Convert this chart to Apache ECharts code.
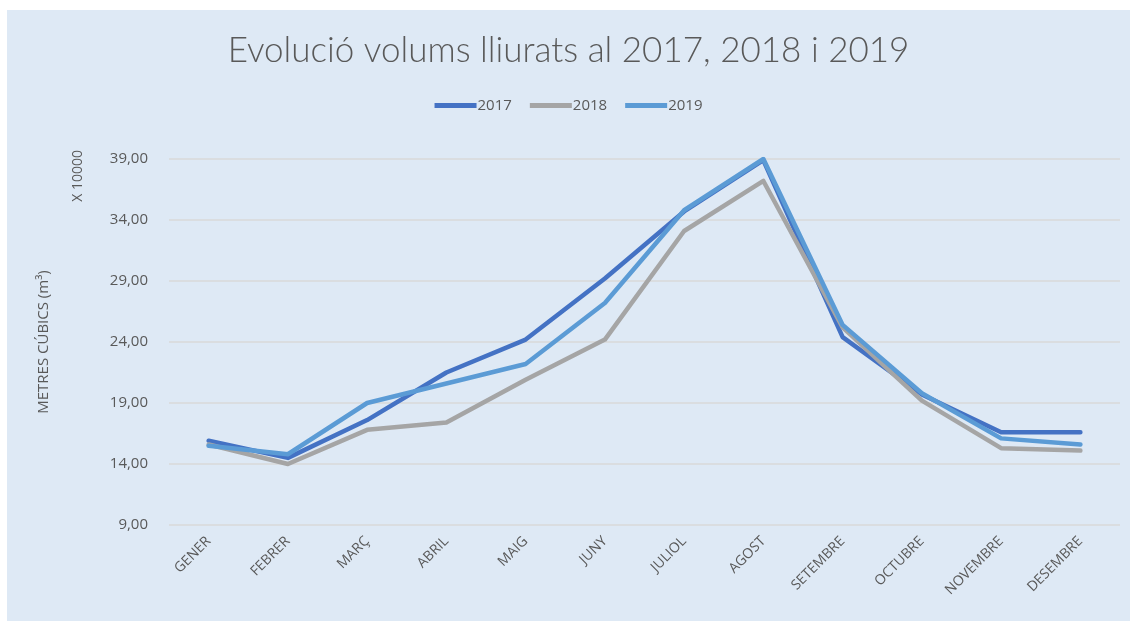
<!DOCTYPE html>
<html>
<head>
<meta charset="utf-8">
<script src="https://cdn.jsdelivr.net/npm/echarts@6/dist/echarts.min.js"></script>
<style>
  html, body { margin: 0; padding: 0; background: #ffffff; }
  #chart { position: absolute; left: 7px; top: 10px; width: 1123px; height: 611px; background: #dee9f5; }
</style>
</head>
<body>
<div id="chart"></div>
<script>
// dades (x 10000 m3)
const months = ['GENER', 'FEBRER', 'MARÇ', 'ABRIL', 'MAIG', 'JUNY', 'JULIOL', 'AGOST', 'SETEMBRE', 'OCTUBRE', 'NOVEMBRE', 'DESEMBRE'];
const data2017 = [15.9, 14.5, 17.6, 21.5, 24.2, 29.2, 34.7, 38.9, 24.4, 19.7, 16.6, 16.6];
const data2018 = [15.6, 14.0, 16.8, 17.4, 20.9, 24.2, 33.1, 37.2, 25.2, 19.2, 15.3, 15.1];
const data2019 = [15.5, 14.8, 19.0, 20.6, 22.2, 27.2, 34.8, 39.0, 25.4, 19.8, 16.1, 15.6];

const txt = '#595959';
const font = 'Open Sans';

function line (name, data, color) {
  return {
    name: name,
    type: 'line',
    data: data,
    symbol: 'none',
    lineStyle: { width: 4.5, color: color, cap: 'round', join: 'round' },
    itemStyle: { color: color }
  };
}

const chart = echarts.init(document.getElementById('chart'));
chart.setOption({
  animation: false,
  title: {
    text: 'Evolució volums lliurats al 2017, 2018 i 2019',
    left: 'center',
    top: 18,
    textStyle: { fontFamily: 'Lato', fontWeight: 300, fontSize: 35, color: txt }
  },
  legend: {
    top: 83,
    left: 'center',
    icon: 'rect',
    itemWidth: 42,
    itemHeight: 5,
    itemGap: 18,
    textStyle: { fontFamily: font, fontSize: 15, color: txt, padding: [0, 0, 0, -4] },
    data: ['2017', '2018', '2019']
  },
  grid: { left: 162, right: 10, top: 149, bottom: 96 },
  xAxis: {
    type: 'category',
    data: months,
    boundaryGap: true,
    axisLine: { show: false },
    axisTick: { show: false },
    axisLabel: { rotate: 45, margin: 14, fontFamily: font, fontSize: 14, color: txt, interval: 0 }
  },
  yAxis: {
    type: 'value',
    min: 9,
    max: 39,
    interval: 5,
    name: 'METRES CÚBICS (m³)',
    nameLocation: 'middle',
    nameRotate: 90,
    nameGap: 118,
    nameTextStyle: { fontFamily: font, fontSize: 15, color: txt },
    axisLabel: {
      margin: 21,
      fontFamily: font,
      fontSize: 15,
      color: txt,
      formatter: v => v.toFixed(2).replace('.', ',')
    },
    splitLine: { lineStyle: { color: '#d9d9d9', width: 1.5 } }
  },
  graphic: [{
    type: 'text',
    left: 64,
    top: 140,
    rotation: Math.PI / 2,
    style: { text: 'X 10000', fontFamily: font, fontSize: 14, fill: txt }
  }],
  series: [
    line('2017', data2017, '#4472c4'),
    line('2018', data2018, '#a5a5a5'),
    line('2019', data2019, '#5b9bd5')
  ]
});
</script>
</body>
</html>
